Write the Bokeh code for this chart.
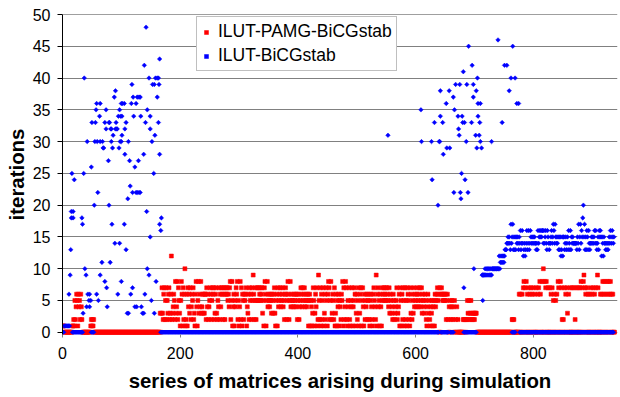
from bokeh.plotting import figure
from bokeh.models import (Range1d, SingleIntervalTicker, ColumnDataSource, Legend,
                          LegendItem, Span, Title)
from bokeh.embed import file_html
from bokeh.resources import INLINE
import math

# ---------------- data ----------------
# ILUT-PAMG-BiCGstab: iterations per matrix, one base-36 digit per matrix,
# matrices 0, 1, 2, ... (0 = not solved by this method)
red_iters = (
    "1110000000" "0000000112" "1524651645" "2642000000" "0000000012"   # 0
    "1212000000" "0000000000" "0000000000" "0000000000" "0000000000"   # 50
    "0000000000" "0000000000" "0000000000" "0000000000" "0000000000"   # 100
    "0000000000" "0000003037" "3267257253" "67236c2346" "5283482753"   # 150
    "15861726a1" "2617463724" "6572316841" "5836483463" "6366274624"   # 200
    "5762576723" "6732547264" "7672672676" "7564782581" "4615476825"   # 250
    "1482716526" "5671436275" "6275962572" "5757567567" "3517861584"   # 300
    "6546536536" "7315617456" "7456745267" "6258625846" "5456456462"   # 350
    "5624576475" "6745645615" "6154137513" "6471295271" "6257136275"   # 400
    "1687258236" "5271361546" "1542658172" "4872154721" "5471457613"   # 450
    "6257136715" "7416254625" "6215642167" "5429167451" "6417567567"   # 500
    "5765473653" "4265234572" "3461751627" "5172517652" "1736253746"   # 550
    "5467546745" "7365436521" "4635214351" "4516456756" "0706765656"   # 600
    "5625620405" "2452405020" "4020000000" "0220220253" "2532532323"   # 650
    "2333000000" "0000000000" "0000000000" "0000000000" "0000000000"   # 700
    "0000000000" "0000220200" "0000006060" "0607807080" "6070607060"   # 750
    "7060070067" "0860080a08" "0780070070" "6070506050" "6087008072"   # 800
    "0207060730" "6007007007" "0207007007" "0807089076" "0706006070"   # 850
    "6070607009" "7000606080" "6806080680" "680606000"                 # 900
)

# ILUT-BiCGstab: scattered matrices (matrix, iterations)
blue_early = [
    (3, 1), (5, 1), (7, 1), (9, 1), (10, 1), (12, 1), (11, 6), (13, 9), (14, 13),
    (15, 19), (15, 18), (16, 25), (18, 19), (18, 18), (20, 24), (33, 18), (34, 17),
    (35, 3), (36, 25), (37, 40), (38, 10), (40, 9), (41, 4), (42, 30), (43, 6),
    (45, 5), (46, 6), (46, 4), (48, 5), (49, 26), (50, 33), (54, 20), (55, 30),
    (56, 33), (57, 35), (58, 36), (58, 6), (59, 30), (60, 22), (61, 5), (63, 34),
    (64, 36), (64, 30), (64, 9), (67, 11), (68, 30), (69, 29), (70, 29), (72, 33),
    (72, 8), (74, 35), (74, 32), (75, 7), (76, 4), (78, 27), (79, 33), (79, 20),
    (80, 33), (81, 11), (82, 32), (83, 32), (83, 30), (84, 17), (85, 29), (86, 31),
    (88, 37), (89, 14), (90, 38), (90, 32), (91, 33), (92, 32), (93, 32), (94, 6),
    (95, 34), (96, 29), (97, 35), (97, 14), (98, 30), (99, 34), (100, 30), (100, 36),
    (100, 8), (101, 34), (101, 31), (102, 36), (105, 36), (105, 17), (106, 28),
    (106, 32), (108, 33), (108, 13), (110, 3), (111, 21), (112, 30), (112, 3),
    (114, 27), (115, 23), (116, 6), (117, 36), (118, 39), (119, 22), (119, 7),
    (120, 37), (121, 34), (123, 26), (123, 4), (125, 22), (125, 36), (126, 4),
    (127, 22), (127, 37), (129, 27), (130, 22), (130, 37), (132, 22), (132, 37),
    (133, 34), (134, 4), (136, 3), (138, 28), (138, 3), (139, 42), (140, 6),
    (141, 33), (142, 48), (143, 19), (144, 35), (144, 10), (147, 40), (147, 9),
    (149, 34), (149, 32), (149, 15), (151, 5), (152, 30), (153, 39), (155, 25),
    (156, 39), (156, 3), (157, 31), (158, 40), (159, 8), (161, 40), (161, 37),
    (163, 40), (163, 33), (164, 39), (165, 43), (165, 28), (165, 17), (167, 16),
    (168, 18),
]
blue_late = [
    (553, 31), (609, 35), (610, 30), (627, 30), (628, 24), (632, 33), (638, 20),
    (640, 30), (641, 30), (642, 38), (642, 34), (646, 33), (647, 28), (652, 36),
    (653, 29), (657, 38), (658, 29), (664, 37), (665, 22), (666, 35), (668, 39),
    (672, 34), (673, 32), (674, 31), (675, 39), (676, 22), (677, 21), (678, 25),
    (679, 34), (680, 33), (681, 41), (682, 7), (683, 33), (684, 24), (686, 30),
    (687, 39), (689, 22), (690, 45), (695, 33), (696, 42), (698, 39), (698, 37),
    (699, 10), (702, 31), (703, 38), (704, 29), (705, 40), (706, 36), (706, 34),
    (708, 31), (709, 33), (710, 36), (710, 30), (712, 29), (714, 5), (729, 30),
    (740, 46), (747, 33), (751, 42), (755, 42), (759, 38), (762, 40), (765, 45),
    (769, 40), (772, 36), (775, 36),
]
# ILUT-BiCGstab from matrix 713 on, one base-36 digit per matrix
blue_band_start = 713
blue_band = (
    "99999a9a9a" "9a9a9a9aaa" "aaaaaaaaac" "abcbcbcbcd" "ddeefefedh"
    "efhdfdfdfe" "fedfegdege" "cdecdegdeg" "degfefefef" "eededgefgf"
    "gfggegefge" "dgfedeefge" "fhgehfefef" "dfdfcdfcff" "defdefdged"
    "gdfefeeeee" "edfehdfheg" "fikfhdfdgf" "dgedeefefe" "fgegedefdg"
    "fgfcfecfee" "dededefegf" "egfef"
)
# matrix ranges (first, last) where ILUT-BiCGstab shows 0 iterations
blue_zero_runs = [(0, 2), (17, 34), (49, 53), (167, 639), (643, 655), (659, 664),
                  (682, 703), (764, 769), (777, 936)]

series_names = ["ILUT-PAMG-BiCGstab", "ILUT-BiCGstab"]
x_title = "series of matrices arising during simulation"
y_title = "iterations"
x_ticks_step = 200
y_ticks_step = 5

# ---------------- build sources ----------------
red_x = list(range(len(red_iters)))
red_y = [int(c, 36) for c in red_iters]

blue_x, blue_y = [], []
for a, b in blue_zero_runs:
    for x in range(a, b + 1):
        blue_x.append(x)
        blue_y.append(0)
for x, y in blue_early + blue_late:
    blue_x.append(x)
    blue_y.append(y)
for i, c in enumerate(blue_band):
    blue_x.append(blue_band_start + i)
    blue_y.append(int(c, 36))

src_red = ColumnDataSource(dict(x=red_x, y=red_y))
src_blue = ColumnDataSource(dict(x=blue_x, y=blue_y))

FONT = "Liberation Sans"

p = figure(width=620, height=397, output_backend="svg", toolbar_location=None,
           x_range=Range1d(0, 943), y_range=Range1d(-0.35, 50),
           min_border_left=62, min_border_right=3, min_border_top=14,
           min_border_bottom=63)
p.outline_line_color = None
p.background_fill_color = "white"
p.border_fill_color = "white"

r_red = p.scatter("x", "y", source=src_red, marker="square", size=4,
                  fill_color="#FF0000", line_color="#FF0000", line_width=0.5)
r_blue = p.scatter("x", "y", source=src_blue, marker="square", size=3.2,
                   angle=math.pi / 4, fill_color="#0000FF", line_color="#0000FF",
                   line_width=0.5)

# axes
p.xaxis.ticker = SingleIntervalTicker(interval=x_ticks_step, num_minor_ticks=0)
p.yaxis.ticker = SingleIntervalTicker(interval=y_ticks_step, num_minor_ticks=0)
p.ygrid.ticker = p.yaxis.ticker
p.xgrid.grid_line_color = None
p.ygrid.grid_line_color = "#808080"
p.ygrid.grid_line_width = 1

xa = p.xaxis[0]
xa.axis_line_color = None
xa.major_tick_line_color = "#808080"
xa.major_tick_in = 0
xa.major_tick_out = 3
xa.minor_tick_line_color = None
xa.major_label_standoff = 9
xa.major_label_text_font = FONT
xa.major_label_text_font_size = "16px"
xa.major_label_text_color = "black"
xa.axis_label = x_title
xa.axis_label_text_font = FONT
xa.axis_label_text_font_style = "bold"
xa.axis_label_text_font_size = "20.4px"
xa.axis_label_text_color = "black"
xa.axis_label_standoff = 8

ya = p.yaxis[0]
ya.axis_line_color = "black"
ya.major_tick_line_color = "black"
ya.major_tick_in = 0
ya.major_tick_out = 5
ya.minor_tick_line_color = None
ya.major_label_standoff = 7
ya.major_label_text_font = FONT
ya.major_label_text_font_size = "16px"
ya.major_label_text_color = "black"

# y title as a left-side title, shifted up like the reference
p.add_layout(Title(text=y_title, align="center", offset=10, standoff=3,
                   text_font=FONT, text_font_style="bold",
                   text_font_size="20.4px", text_color="black"), "left")

p.add_layout(Span(location=50, dimension="width", line_color="#404040", line_width=1))

legend = Legend(
    items=[LegendItem(label=series_names[0], renderers=[r_red]),
           LegendItem(label=series_names[1], renderers=[r_blue])],
    location=(134, 263), orientation="vertical", margin=0, padding=4, spacing=3,
    glyph_width=10, glyph_height=10, label_standoff=7, label_height=20,
    label_text_font=FONT, label_text_font_size="17.5px", label_text_color="black",
    border_line_color="#808080", border_line_width=1,
    background_fill_color="white", background_fill_alpha=1.0,
)
p.add_layout(legend)

open("out.html", "w").write(file_html(p, INLINE))
